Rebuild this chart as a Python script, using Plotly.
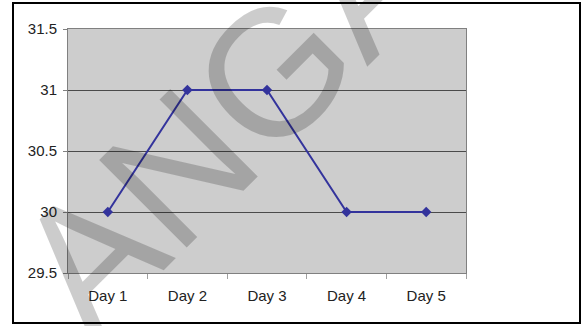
import plotly.graph_objects as go

days = ["Day 1", "Day 2", "Day 3", "Day 4", "Day 5"]
values = [30, 31, 31, 30, 30]
y_ticks = [29.5, 30, 30.5, 31, 31.5]
y_tick_labels = ["29.5", "30", "30.5", "31", "31.5"]

W, H = 585, 326
L, R, T, B = 68, 119, 29, 53
PW, PH = W - L - R, H - T - B

def px(x):
    return (x - L) / PW

def py(y):
    return (H - B - y) / PH

fig = go.Figure()
fig.add_trace(go.Scatter(
    x=days, y=values, mode="lines+markers",
    line=dict(color="#33339c", width=2),
    marker=dict(symbol="diamond", size=8, color="#33339c"),
    showlegend=False, hoverinfo="skip",
))

font = dict(family="Liberation Sans, Arial, sans-serif", size=15, color="#222222")

fig.update_layout(
    width=W, height=H,
    margin=dict(l=L, r=R, t=T, b=B, pad=0),
    paper_bgcolor="white",
    plot_bgcolor="#cdcdcd",
    font=font,
    xaxis=dict(
        type="category", range=[-0.5, 4.5],
        showline=True, linecolor="#808080", linewidth=1, mirror=True,
        ticks="outside", tickson="boundaries", ticklen=5, tickcolor="#a0a0a0",
        showgrid=False, zeroline=False, ticklabelstandoff=9,
        fixedrange=True,
    ),
    yaxis=dict(
        range=[29.5, 31.5], tickvals=y_ticks, ticktext=y_tick_labels,
        showline=True, linecolor="#808080", linewidth=1, mirror=True,
        ticks="outside", ticklen=4, tickcolor="#808080",
        showgrid=True, gridcolor="#4a4a4a", gridwidth=1,
        zeroline=False, ticklabelstandoff=3,
        fixedrange=True,
    ),
)

# outer frame
fig.add_shape(type="rect", xref="paper", yref="paper",
              x0=px(13), x1=px(580), y0=py(323), y1=py(3),
              line=dict(color="black", width=2), fillcolor="rgba(0,0,0,0)",
              layer="above")

# watermark
fig.add_annotation(
    text="ANGA", xref="paper", yref="paper",
    x=px(227), y=py(118), xanchor="center", yanchor="middle",
    showarrow=False, textangle=-45,
    font=dict(family="Liberation Sans, Arial, sans-serif", size=180,
              color="rgba(0,0,0,0.2)"),
)

fig.write_html("out.html")
